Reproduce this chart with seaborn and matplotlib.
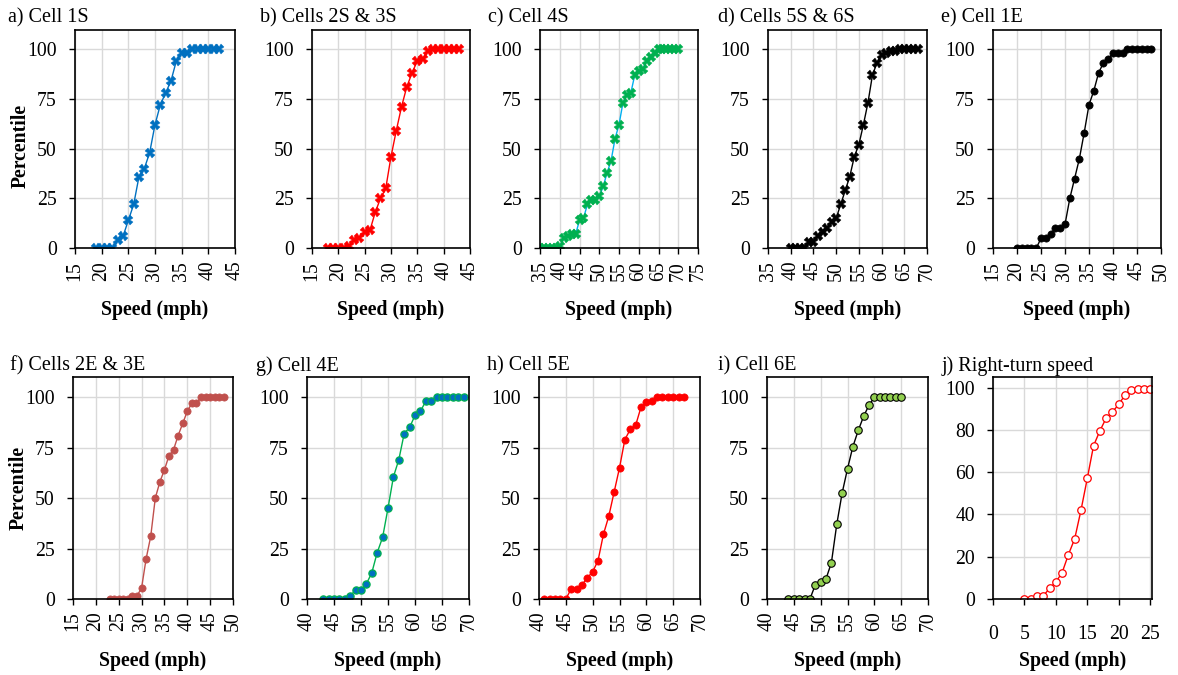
import matplotlib
matplotlib.use("Agg")
import matplotlib.pyplot as plt
import seaborn as sns

# ---------------- data ----------------
titles = ["a) Cell 1S", "b) Cells 2S & 3S", "c) Cell 4S", "d) Cells 5S & 6S", "e) Cell 1E",
          "f) Cells 2E & 3E", "g) Cell 4E", "h) Cell 5E", "i) Cell 6E", "j) Right-turn speed"]

a_speed = [19, 20, 21, 22, 23, 24, 25, 26, 27, 28, 29, 30, 31, 32, 33, 34, 35, 36, 37, 38, 39, 40, 41, 42]
a_pct = [0, 0, 0, 0, 4, 6, 14, 22, 36, 40, 48, 62, 72, 78, 84, 94, 98, 98, 100, 100, 100, 100, 100, 100]

b_speed = [18, 19, 20, 21, 22, 23, 24, 25, 26, 27, 28, 29, 30, 31, 32, 33, 34, 35, 36, 37, 38, 39, 40, 41, 42, 43]
b_pct = [0, 0, 0, 0, 1, 4, 5, 8, 9, 18, 25, 30, 46, 59, 71, 81, 88, 94, 95, 99, 100, 100, 100, 100, 100, 100]

c_speed = [35, 36, 37, 38, 39, 40, 41, 42, 43, 44, 45, 46, 47, 48, 49, 50, 51, 52, 53, 54, 55, 56, 57, 58,
           59, 60, 61, 62, 63, 64, 65, 66, 67, 68, 69, 70]
c_pct = [0, 0, 0, 0, 0, 1, 5, 6, 7, 7, 14, 15, 22, 24, 24, 26, 31, 38, 44, 55, 62, 73, 77, 78,
         87, 89, 90, 94, 96, 98, 100, 100, 100, 100, 100, 100]

d_speed = [40, 41, 42, 43, 44, 45, 46, 47, 48, 49, 50, 51, 52, 53, 54, 55, 56, 57, 58, 59, 60, 61, 62, 63,
           64, 65, 66, 67, 68]
d_pct = [0, 0, 0, 0, 3, 3, 6, 8, 10, 13, 15, 22, 29, 36, 46, 52, 62, 73, 87, 93, 97, 98, 99, 99,
         100, 100, 100, 100, 100]

e_speed = [20, 21, 22, 23, 24, 25, 26, 27, 28, 29, 30, 31, 32, 33, 34, 35, 36, 37, 38, 39, 40, 41, 42, 43,
           44, 45, 46, 47, 48]
e_pct = [0, 0, 0, 0, 0, 5, 5, 7, 10, 10, 12, 25, 35, 45, 58, 72, 79, 88, 93, 95, 98, 98, 98, 100,
         100, 100, 100, 100, 100]

f_speed = [23, 24, 25, 26, 27, 28, 29, 30, 31, 32, 33, 34, 35, 36, 37, 38, 39, 40, 41, 42, 43, 44, 45, 46, 47, 48]
f_pct = [0, 0, 0, 0, 0, 1.5, 1.5, 5.5, 20, 31, 50, 58, 64, 71, 74, 81, 87, 93, 97, 97, 100, 100, 100, 100, 100, 100]

g_speed = [43, 44, 45, 46, 47, 48, 49, 50, 51, 52, 53, 54, 55, 56, 57, 58, 59, 60, 61, 62, 63, 64, 65, 66, 67, 68, 69]
g_pct = [0, 0, 0, 0, 0, 1.5, 4.5, 4.5, 7.5, 13, 23, 30.5, 45, 60.5, 69, 82, 85, 91, 93, 98, 98,
         100, 100, 100, 100, 100, 100]

h_speed = [41, 42, 43, 44, 45, 46, 47, 48, 49, 50, 51, 52, 53, 54, 55, 56, 57, 58, 59, 60, 61, 62, 63, 64, 65, 66, 67]
h_pct = [0, 0, 0, 0, 0, 5, 5, 7, 10.5, 13.5, 19, 32, 41, 53, 65, 79, 84, 86, 95, 97.5, 98,
         100, 100, 100, 100, 100, 100]

i_speed = [44, 45, 46, 47, 48, 49, 50, 51, 52, 53, 54, 55, 56, 57, 58, 59, 60, 61, 62, 63, 64, 65]
i_pct = [0, 0, 0, 0, 0, 7, 8.5, 10, 18, 37, 52.5, 64.5, 75.5, 83.5, 90.5, 96, 100, 100, 100, 100, 100, 100]

j_speed = [5, 6, 7, 8, 9, 10, 11, 12, 13, 14, 15, 16, 17, 18, 19, 20, 21, 22, 23, 24, 25]
j_pct = [0, 0, 1.5, 1.5, 5, 8, 12.5, 21, 28.5, 42, 57, 72.5, 79.5, 85.5, 88.5, 92, 96.5, 99, 99.5, 99.5, 99.5]

x_ranges = [(15, 45), (15, 45), (35, 75), (35, 70), (15, 50),
            (15, 50), (40, 70), (40, 70), (40, 70), (0, 25)]

# ---------------- style ----------------
sns.set_theme(style="whitegrid")
plt.rcParams['font.family'] = ['Liberation Serif', 'DejaVu Serif']

W, H = 1178, 675
fig = plt.figure(figsize=(W / 100, H / 100), dpi=100)

row1 = (30, 248.3)
row2 = (377, 599)
boxes = [(75, 235, *row1), (312, 470, *row1), (540, 698, *row1), (768, 927, *row1), (993, 1161, *row1),
         (73, 233, *row2), (307, 469, *row2), (539, 700, *row2), (767, 928, *row2), (993, 1152, *row2)]
title_x = [8, 260, 488, 718, 941, 10, 256, 487, 718, 942]

styles = [
    dict(color="#0070C0", marker="X", markersize=7, markerfacecolor="#0070C0", markeredgecolor="#0070C0", markeredgewidth=0.3),
    dict(color="#FF0000", marker="X", markersize=7, markerfacecolor="#FF0000", markeredgecolor="#FF0000", markeredgewidth=0.3),
    dict(color="#00B0F0", marker="X", markersize=7, markerfacecolor="#00B050", markeredgecolor="#00B050", markeredgewidth=0.3),
    dict(color="#000000", marker="X", markersize=7, markerfacecolor="#000000", markeredgecolor="#000000", markeredgewidth=0.3),
    dict(color="#000000", marker="o", markersize=5.2, markerfacecolor="#000000", markeredgecolor="#000000", markeredgewidth=0.5),
    dict(color="#C0504D", marker="o", markersize=5.2, markerfacecolor="#C0504D", markeredgecolor="#C0504D", markeredgewidth=0.5),
    dict(color="#00B050", marker="o", markersize=5.2, markerfacecolor="#0070C0", markeredgecolor="#00B050", markeredgewidth=0.9),
    dict(color="#FF0000", marker="o", markersize=5.2, markerfacecolor="#FF0000", markeredgecolor="#FF0000", markeredgewidth=0.5),
    dict(color="#000000", marker="o", markersize=5.4, markerfacecolor="#92D050", markeredgecolor="#000000", markeredgewidth=0.8),
    dict(color="#FF0000", marker="o", markersize=5.4, markerfacecolor="#FFFFFF", markeredgecolor="#FF0000", markeredgewidth=0.9),
]

series = [(a_speed, a_pct), (b_speed, b_pct), (c_speed, c_pct), (d_speed, d_pct), (e_speed, e_pct),
          (f_speed, f_pct), (g_speed, g_pct), (h_speed, h_pct), (i_speed, i_pct), (j_speed, j_pct)]

FS = 14.2
for k, ((xs, ys), (l, r, t, b), st, (x0, x1)) in enumerate(zip(series, boxes, styles, x_ranges)):
    ax = fig.add_axes([l / W, 1 - b / H, (r - l) / W, (b - t) / H])
    sns.lineplot(x=xs, y=ys, ax=ax, linewidth=1.0, errorbar=None, **st)
    ax.set_xticks(list(range(x0, x1 + 1, 5)))
    if k == 9:
        ax.set_xlim(x0, x1 + 0.3)
        ax.set_ylim(0, 105)
        ax.set_yticks([0, 20, 40, 60, 80, 100])
    else:
        ax.set_xlim(x0, x1)
        ax.set_ylim(0, 109.5 if k < 5 else 110)
        ax.set_yticks([0, 25, 50, 75, 100])
    ax.grid(True, color="#d9d9d9", linewidth=1.0)
    for sp in ax.spines.values():
        sp.set_color("black")
        sp.set_linewidth(1.2)
    ax.tick_params(axis="both", which="major", direction="out", length=4, width=1, color="black",
                   labelsize=FS, labelcolor="black", bottom=True, left=True)
    ax.tick_params(axis="y", pad=9)
    if k != 9:
        ax.tick_params(axis="x", labelrotation=90, pad=5)
    else:
        ax.tick_params(axis="x", pad=15)
    ax.set_xlabel("Speed (mph)", fontsize=FS, fontweight="bold", color="black", va="top")
    ax.xaxis.set_label_coords(0.5, -0.235)
    if k in (0, 5):
        ax.set_ylabel("Percentile", fontsize=FS, fontweight="bold", color="black")
        ax.yaxis.set_label_coords(-0.28, 0.47 if k == 0 else 0.5)
    else:
        ax.set_ylabel("")
    ty = 18 if k < 5 else 366
    fig.text(title_x[k] / W, 1 - ty / H, titles[k], ha="left", va="center", fontsize=FS + 0.3, color="black")

fig.savefig("out.png", dpi=100, facecolor="white")
